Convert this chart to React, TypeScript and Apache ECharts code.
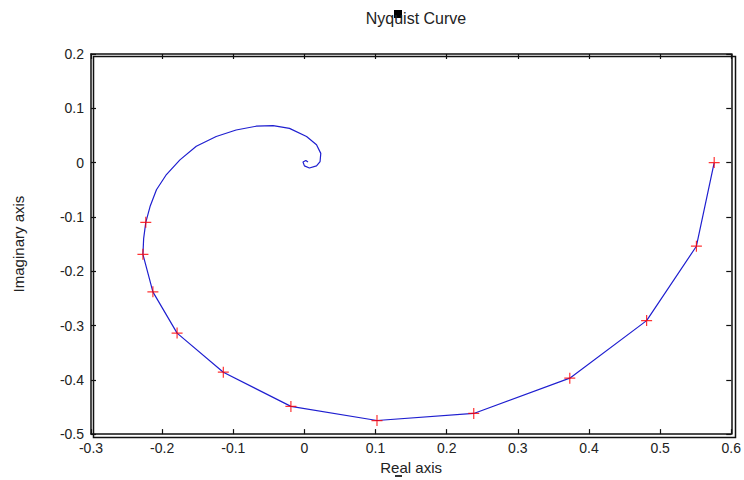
import React, { useEffect, useRef } from "react";
import * as echarts from "echarts";

// Marked frequency points (red +)
const markerRe = [0.576, 0.551, 0.481, 0.373, 0.238, 0.102, -0.019, -0.114, -0.179, -0.213, -0.227, -0.223];
const markerIm = [0.0, -0.154, -0.291, -0.397, -0.462, -0.475, -0.449, -0.386, -0.314, -0.238, -0.169, -0.11];

// Continuous Nyquist curve (blue)
const curveRe = [
  0.576, 0.551, 0.481, 0.373, 0.238, 0.102, -0.019, -0.114, -0.179, -0.213, -0.227, -0.226, -0.223,
  -0.217, -0.208, -0.194, -0.175, -0.152, -0.124, -0.096, -0.068, -0.044, -0.021, 0.003, 0.017,
  0.023, 0.022, 0.017, 0.007, 0.0, -0.002, 0.002, 0.005,
];
const curveIm = [
  0.0, -0.154, -0.291, -0.397, -0.462, -0.475, -0.449, -0.386, -0.314, -0.238, -0.169, -0.14, -0.11,
  -0.081, -0.05, -0.022, 0.005, 0.03, 0.048, 0.06, 0.067, 0.068, 0.063, 0.048, 0.033,
  0.017, 0.002, -0.006, -0.01, -0.006, 0.001, 0.004, 0.001,
];

const xTicks = { min: -0.3, max: 0.6, interval: 0.1 };
const yTicks = { min: -0.5, max: 0.2, interval: 0.1 };

const titleText = "Nyquist Curve";
const xName = "Real axis";
const yName = "Imaginary axis";

const FONT = "'Liberation Sans', Arial, sans-serif";

export default function App() {
  const ref = useRef<HTMLDivElement>(null);
  useEffect(() => {
    if (!ref.current) return;
    const chart = echarts.init(ref.current, null, { renderer: "svg" });
    const fmt = (v: number) => {
      const r = Math.round(v * 10) / 10;
      return r === 0 ? "0" : String(r);
    };
    const tickCommon = {
      axisLine: { show: true, onZero: false, lineStyle: { color: "#111", width: 1.5 } },
      axisTick: { show: true, inside: true, length: 5, lineStyle: { color: "#111", width: 1.2 } },
      splitLine: { show: false },
    };
    chart.setOption({
      animation: false,
      backgroundColor: "#fff",
      title: {
        text: titleText,
        left: 411,
        top: 5,
        textAlign: "center",
        textStyle: { fontFamily: FONT, fontSize: 16, fontWeight: "normal", color: "#222" },
      },
      grid: { left: 91, right: 11, top: 54, bottom: 45, show: false },
      xAxis: [
        {
          type: "value",
          ...xTicks,
          position: "bottom",
          name: xName,
          nameLocation: "middle",
          nameGap: 22,
          nameTextStyle: { fontFamily: FONT, fontSize: 15, color: "#222" },
          axisLabel: { fontFamily: FONT, fontSize: 14, color: "#222", margin: 7, formatter: fmt },
          ...tickCommon,
        },
        {
          type: "value",
          ...xTicks,
          position: "top",
          axisLabel: { show: false },
          ...tickCommon,
        },
      ],
      yAxis: [
        {
          type: "value",
          ...yTicks,
          position: "left",
          name: yName,
          nameLocation: "middle",
          nameGap: 65,
          nameTextStyle: { fontFamily: FONT, fontSize: 15, color: "#222" },
          axisLabel: { fontFamily: FONT, fontSize: 14, color: "#222", margin: 7, formatter: fmt },
          ...tickCommon,
        },
        {
          type: "value",
          ...yTicks,
          position: "right",
          axisLabel: { show: false },
          ...tickCommon,
        },
      ],
      graphic: [
        {
          type: "rect",
          left: 91,
          top: 54,
          z: 10,
          silent: true,
          shape: { width: 642, height: 381 },
          style: { fill: "none", stroke: "#111", lineWidth: 1.5 },
        },
        { type: "rect", left: 394, top: 10, shape: { width: 8, height: 8 }, style: { fill: "#000" } },
        { type: "rect", left: 395, top: 475, shape: { width: 7, height: 2 }, style: { fill: "#333" } },
      ],
      series: [
        {
          type: "line",
          xAxisIndex: 1,
          yAxisIndex: 1,
          data: curveRe.map((x, i) => [x, curveIm[i]]),
          showSymbol: false,
          symbol: "none",
          lineStyle: { color: "#1f1fd0", width: 1.2 },
          z: 2,
        },
        {
          type: "scatter",
          xAxisIndex: 0,
          yAxisIndex: 0,
          data: markerRe.map((x, i) => [x, markerIm[i]]),
          symbol: "path://M0,5L10,5M5,0L5,10",
          symbolSize: 11,
          itemStyle: { color: "none", borderColor: "#ff0000", borderWidth: 1.2 },
          z: 3,
        },
      ],
    });
    return () => chart.dispose();
  }, []);
  return (
    <div
      ref={ref}
      style={{ width: 744, height: 480, position: "fixed", left: 0, top: 0 }}
    />
  );
}
